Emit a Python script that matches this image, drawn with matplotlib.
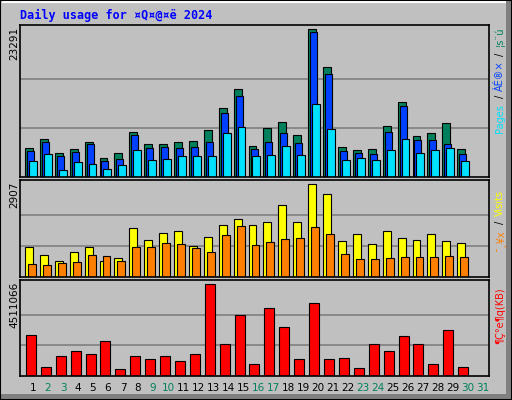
import matplotlib
matplotlib.use("Agg")
import matplotlib.pyplot as plt
import numpy as np
from matplotlib.patches import Rectangle

days = np.arange(1, 31)
all_days = list(range(1, 32))
weekend = [2, 3, 9, 10, 16, 17, 23, 24, 30, 31]

hits = [4637, 6060, 3847, 4479, 5586, 3057, 3847, 7167, 5270, 5270, 5586, 5744, 7483, 10962, 13965,
        4954, 7800, 8748, 6693, 23291, 17286, 4796, 4321, 4479, 8116, 11910, 6535, 7009, 8590, 4479]
files = [4163, 5586, 3373, 4005, 5270, 2582, 2899, 6693, 4638, 4796, 4638, 4796, 5586, 10171, 12859,
         4480, 5586, 7009, 5428, 22819, 16179, 4163, 3847, 3689, 7167, 11278, 5902, 5902, 5270, 3689]
pages = [2582, 3689, 1159, 2424, 2108, 1318, 1950, 4321, 2740, 2899, 3373, 3373, 3373, 7009, 7958,
         3373, 3531, 4954, 3531, 11594, 7642, 2740, 3057, 2740, 4321, 6060, 3847, 4321, 4638, 2582]
visits = [948, 695, 505, 790, 948, 505, 600, 1548, 1169, 1390, 1453, 979, 1264, 1643, 1832,
          1643, 1737, 2274, 1737, 2907, 2590, 1137, 1358, 1042, 1453, 1232, 1169, 1358, 1137, 1074]
sites = [411, 379, 442, 474, 695, 663, 505, 948, 948, 1074, 1042, 916, 790, 1327, 1611,
         1011, 1106, 1200, 1232, 1580, 1358, 727, 569, 569, 600, 632, 632, 632, 663, 632]
kbytes = [2041536, 460992, 1004304, 1251264, 1103088, 1745184, 362208, 1004304, 856128, 1004304,
          757344, 1103088, 4511066, 1597008, 2979984, 609168, 3325728, 2387280, 856128, 3572688,
          856128, 905520, 411600, 1597008, 1251264, 1992144, 1597008, 609168, 2239104, 460992]

BG = "#C0C0C0"
W, H = 512, 400

fig = plt.figure(figsize=(5.12, 4.0), dpi=100, facecolor=BG)


def px_axes(top, bottom):
    return fig.add_axes([20 / W, 1 - bottom / H, (489 - 20) / W, (bottom - top) / H])


def style(ax, ymax, frac):
    ax.set_facecolor(BG)
    ax.set_xlim(0.133, 31.6)
    ax.set_ylim(0, ymax * frac)
    ax.set_xticks([])
    ax.set_yticks([])
    for y in (ymax / 3, ymax * 2 / 3):
        ax.axhline(y, color="#808080", lw=1.2, zorder=0)
    for s in ax.spines.values():
        s.set_color("black")
        s.set_linewidth(1.2)


ax1 = px_axes(25, 177)
style(ax1, max(hits), 1.03)
ax1.bar(days - 0.53, hits, width=0.53, align="edge", color="#00805C", edgecolor="black", lw=0.8)
ax1.bar(days - 0.40, files, width=0.47, align="edge", color="#0040FF", edgecolor="black", lw=0.8)
ax1.bar(days - 0.27, pages, width=0.53, align="edge", color="#00E0FF", edgecolor="black", lw=0.8)

ax2 = px_axes(180, 277)
style(ax2, max(visits), 1.047)
ax2.bar(days - 0.53, visits, width=0.53, align="edge", color="#FFFF00", edgecolor="black", lw=0.8)
ax2.bar(days - 0.33, sites, width=0.53, align="edge", color="#FF8000", edgecolor="black", lw=0.8)

ax3 = px_axes(280, 376)
style(ax3, max(kbytes), 1.047)
ax3.bar(days - 0.47, kbytes, width=0.67, align="edge", color="#FF0000", edgecolor="black", lw=0.8)

# day labels
for d in all_days:
    fig.text((33 + 15 * (d - 1)) / W, 1 - 388 / H, str(d), ha="center", va="center",
             fontsize=7.5, color="#00805C" if d in weekend else "black")

# outer 3D border
fig.patches.append(Rectangle((W - 6) / W * np.array([1, 0]), 6 / W, 1, transform=fig.transFigure,
                             facecolor="#808080", edgecolor="none"))
fig.patches.append(Rectangle((0, 0), 1, 6 / H, transform=fig.transFigure,
                             facecolor="#808080", edgecolor="none"))
fig.patches.append(Rectangle((2 / W, 1 - 2 / H), (W - 8) / W, 0, transform=fig.transFigure,
                             fill=False, edgecolor="white", lw=1.5))
fig.patches.append(Rectangle((0, 0), 1, 1, transform=fig.transFigure, fill=False,
                             edgecolor="black", lw=1.5))

fig.text(20 / W, 1 - 15 / H, "Daily usage for ¤Q¤@¤ë 2024", color="#0000FF",
         family="DejaVu Sans Mono", fontweight="bold", fontsize=8.5, va="center")

# left max labels
for top, label in [(27, str(max(hits))), (182, str(max(visits))), (282, str(max(kbytes)))]:
    fig.text(14 / W, 1 - top / H, label, rotation=90, ha="center", va="top", fontsize=7.5)

# right legend labels
right = [
    (27, "¦s¨ú", "#00805C"), (53, "/", "black"), (60, "ÀÉ®×", "#0040FF"), (95, "/", "black"),
    (104, "Pages", "#00E0FF"),
    (190, "Visits", "#FFFF00"), (221, "/", "black"), (229, "¯¸¥x", "#FF8000"),
    (287, "¶Ç°e¶q(KB)", "#FF0000"),
]
for top, label, color in right:
    fig.text(500 / W, 1 - top / H, label, rotation=90, ha="center", va="top",
             fontsize=7, color=color)

fig.savefig("out.png", dpi=100, facecolor=BG)
